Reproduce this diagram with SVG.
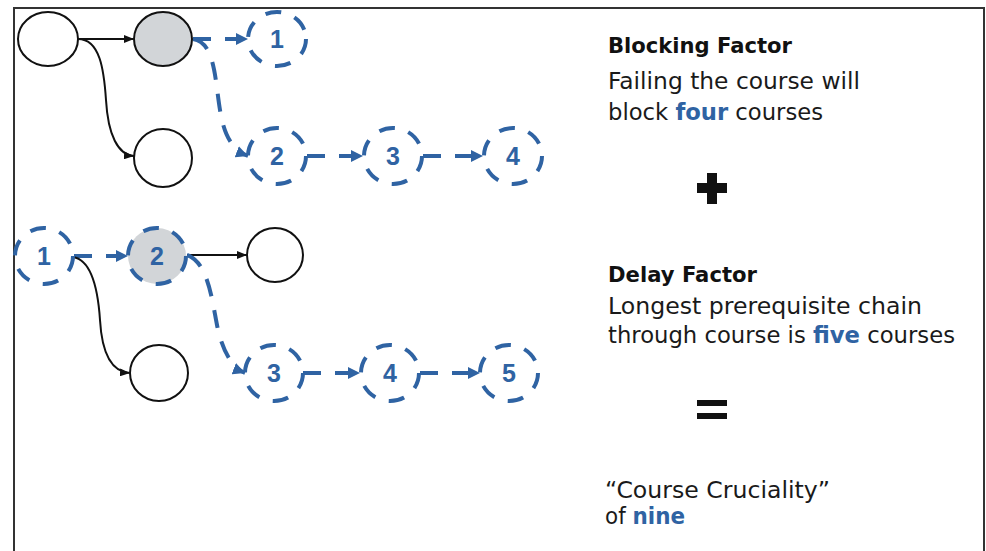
<svg xmlns="http://www.w3.org/2000/svg" width="986" height="551" viewBox="0 0 986 551">
<style>
.n{fill:#fff;stroke:#111;stroke-width:2}
.gs{fill:#d2d5d8;stroke:#111;stroke-width:2}
.d{fill:none;stroke:#2f63a3;stroke-width:4;stroke-dasharray:16 14}
.dg{fill:#d2d5d8;stroke:#2f63a3;stroke-width:4;stroke-dasharray:16 14}
.num{font-family:"Liberation Sans",Arial,sans-serif;font-weight:bold;font-size:25px;fill:#2f63a3;text-anchor:middle}
.bl{fill:none;stroke:#111;stroke-width:2}
.bd{fill:none;stroke:#2f63a3;stroke-width:4;stroke-dasharray:18 14}
.t{font-family:"DejaVu Sans","Liberation Sans",sans-serif;font-size:23px;fill:#1a1a1a}
.h{font-family:"DejaVu Sans","Liberation Sans",sans-serif;font-size:21.5px;font-weight:bold;fill:#111}
.b{font-weight:bold;fill:#2f63a3}
</style>
<defs>
<marker id="ab" markerUnits="userSpaceOnUse" markerWidth="12" markerHeight="12" refX="12" refY="6" orient="auto"><path d="M0,0 L12,6 L0,12 z" fill="#2f63a3"/></marker>
<marker id="ak" markerUnits="userSpaceOnUse" markerWidth="10" markerHeight="8" refX="10" refY="4" orient="auto"><path d="M0,0 L10,4 L0,8 z" fill="#111"/></marker>
</defs>
<rect x="14" y="8" width="970" height="600" fill="#fff" stroke="#333" stroke-width="2"/>

<g id="connectors">
<line class="bl" x1="78" y1="39" x2="134" y2="39" marker-end="url(#ak)"/>
<path class="bl" d="M78,39 C100,39 104,70 106,100 C108,135 118,155 134,156" marker-end="url(#ak)"/>
<line class="bd" x1="193" y1="39" x2="248" y2="39" marker-end="url(#ab)"/>
<path class="bd" d="M193,39 C215,42 215,80 220,110 C224,135 232,150 248,156" marker-end="url(#ab)"/>
<line class="bd" x1="307" y1="156" x2="363" y2="156" marker-end="url(#ab)"/>
<line class="bd" x1="423" y1="156" x2="483" y2="156" marker-end="url(#ab)"/>

<line class="bd" x1="74" y1="256" x2="128" y2="256" marker-end="url(#ab)"/>
<path class="bl" d="M73,257 C92,260 98,290 100,320 C102,355 112,372 130,373" marker-end="url(#ak)"/>
<line class="bl" x1="187" y1="255" x2="247" y2="255" marker-end="url(#ak)"/>
<path class="bd" d="M187,255 C208,262 212,300 217,325 C222,350 232,368 245,373" marker-end="url(#ab)"/>
<line class="bd" x1="303" y1="373" x2="360" y2="373" marker-end="url(#ab)"/>
<line class="bd" x1="420" y1="373" x2="480" y2="373" marker-end="url(#ab)"/>
</g>

<g id="top-a"><ellipse class="n" cx="48" cy="39" rx="30" ry="27"/></g>
<g id="top-b"><ellipse class="gs" cx="163" cy="39" rx="29" ry="27"/></g>
<g id="top-c"><ellipse class="n" cx="163" cy="158" rx="29" ry="29"/></g>
<g id="top-1"><ellipse class="d" cx="277" cy="39" rx="29" ry="27"/><text class="num" x="277" y="48">1</text></g>
<g id="top-2"><ellipse class="d" cx="277" cy="156" rx="29" ry="28"/><text class="num" x="277" y="165">2</text></g>
<g id="top-3"><ellipse class="d" cx="393" cy="156" rx="29" ry="28"/><text class="num" x="393" y="165">3</text></g>
<g id="top-4"><ellipse class="d" cx="513" cy="156" rx="29" ry="28"/><text class="num" x="513" y="165">4</text></g>

<g id="bot-1"><ellipse class="d" cx="44" cy="256" rx="29" ry="28"/><text class="num" x="44" y="265">1</text></g>
<g id="bot-2"><ellipse class="dg" cx="157" cy="256" rx="29" ry="28"/><text class="num" x="157" y="265">2</text></g>
<g id="bot-r"><ellipse class="n" cx="275" cy="255" rx="28" ry="27"/></g>
<g id="bot-c"><ellipse class="n" cx="159" cy="373" rx="29" ry="28"/></g>
<g id="bot-3"><ellipse class="d" cx="274" cy="373" rx="29" ry="28"/><text class="num" x="274" y="382">3</text></g>
<g id="bot-4"><ellipse class="d" cx="390" cy="373" rx="29" ry="28"/><text class="num" x="390" y="382">4</text></g>
<g id="bot-5"><ellipse class="d" cx="509" cy="373" rx="29" ry="28"/><text class="num" x="509" y="382">5</text></g>

<g id="text">
<text class="h" x="608" y="53" textLength="184" lengthAdjust="spacingAndGlyphs">Blocking Factor</text>
<text class="t" x="608" y="89" textLength="252" lengthAdjust="spacingAndGlyphs">Failing the course will</text>
<text class="t" x="608" y="120" textLength="215" lengthAdjust="spacingAndGlyphs">block <tspan class="b">four</tspan> courses</text>
<rect x="697" y="183" width="30" height="10" fill="#111"/>
<rect x="707" y="173" width="10" height="31" fill="#111"/>
<text class="h" x="608" y="282" textLength="149" lengthAdjust="spacingAndGlyphs">Delay Factor</text>
<text class="t" x="608" y="314" textLength="314" lengthAdjust="spacingAndGlyphs">Longest prerequisite chain</text>
<text class="t" x="608" y="343" textLength="347" lengthAdjust="spacingAndGlyphs">through course is <tspan class="b">five</tspan> courses</text>
<rect x="697" y="400" width="30" height="6" fill="#111"/>
<rect x="697" y="413" width="30" height="6" fill="#111"/>
<text class="t" x="605" y="498" textLength="225" lengthAdjust="spacingAndGlyphs">“Course Cruciality”</text>
<text class="t" x="605" y="524" textLength="80" lengthAdjust="spacingAndGlyphs">of <tspan class="b">nine</tspan></text>
</g>
</svg>
